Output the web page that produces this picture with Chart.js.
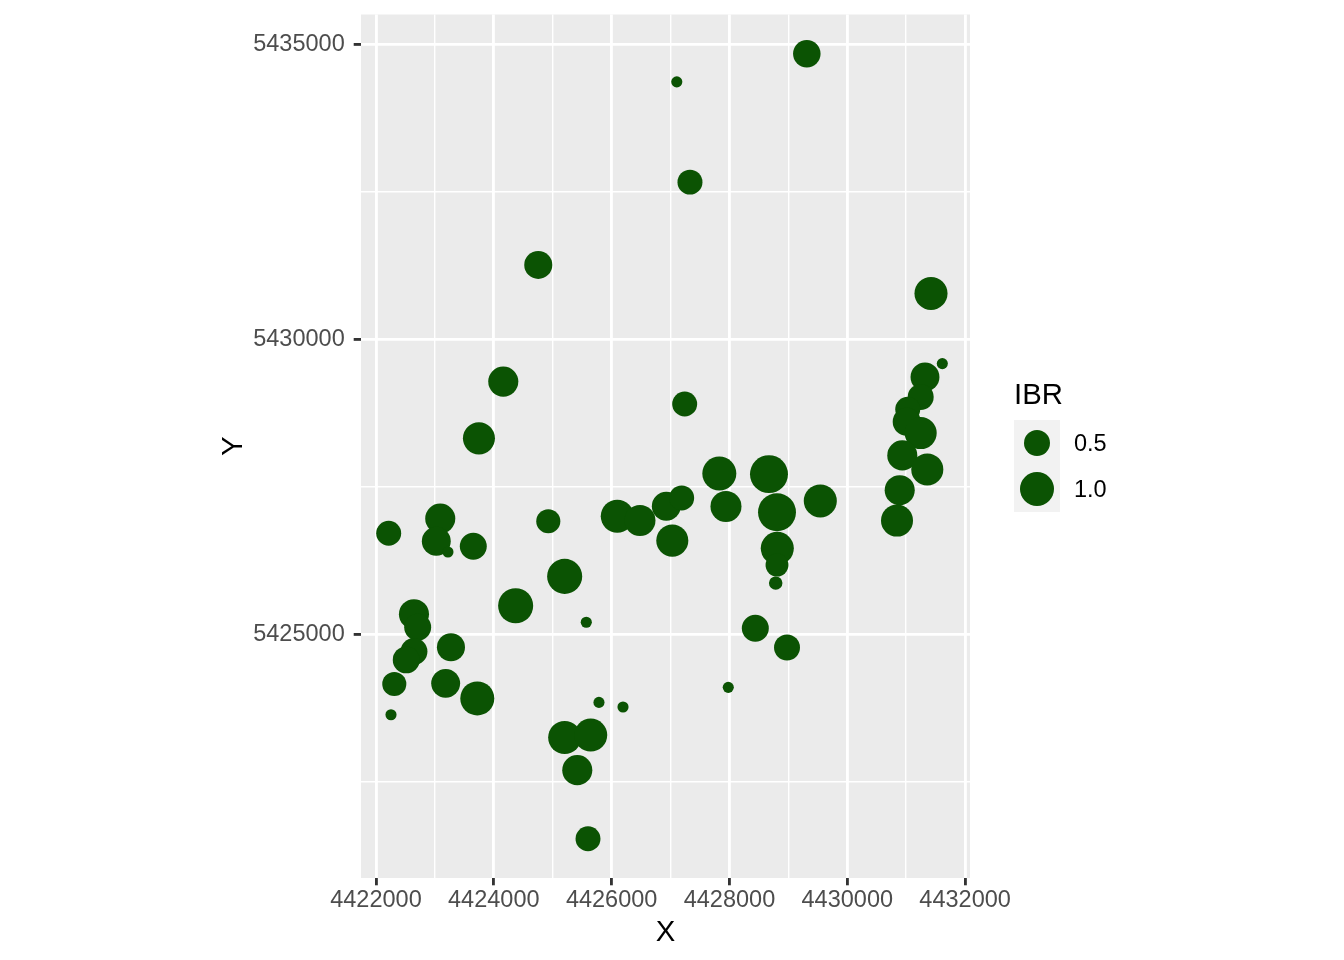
<!DOCTYPE html>
<html>
<head>
<meta charset="utf-8">
<style>
  html, body { margin: 0; padding: 0; background: #ffffff; }
  #wrap { width: 1344px; height: 960px; position: relative; }
  canvas { display: block; }
</style>
<script src="https://cdn.jsdelivr.net/npm/chart.js@4.4.1/dist/chart.umd.min.js"></script>
</head>
<body>
<div id="wrap"><canvas id="c" width="1344" height="960"></canvas></div>
<script>
// ---- data ----
const xs = [
  4429313, 4427106, 4427330, 4424755, 4431421, 4431613, 4431319, 4431246, 4431026, 4431009,
  4431246, 4430934, 4431358, 4430890, 4430844, 4424161, 4423748, 4427240, 4422216, 4423091,
  4423024, 4423222, 4423652, 4424925, 4425203, 4424371, 4425570, 4422645, 4422708, 4422645,
  4422514, 4423273, 4422311, 4423183, 4423720, 4422255, 4425785, 4426193, 4427980, 4425203,
  4425645, 4425417, 4425599, 4426096, 4426481, 4426928, 4427189, 4427030, 4427828, 4427941,
  4428671, 4428807, 4429542, 4428812, 4428807, 4428785, 4428439, 4428977
];
const ys = [
  5434844, 5434368, 5432667, 5431263, 5430780, 5429590, 5429364, 5429024, 5428815, 5428604,
  5428412, 5428033, 5427795, 5427443, 5426928, 5429284, 5428322, 5428905, 5426712, 5426962,
  5426576, 5426394, 5426491, 5426916, 5425981, 5425483, 5425204, 5425340, 5425119, 5424706,
  5424565, 5424779, 5424157, 5424167, 5423912, 5423635, 5423844, 5423766, 5424099, 5423249,
  5423290, 5422695, 5421532, 5427001, 5426928, 5427171, 5427312, 5426588, 5427727, 5427166,
  5427715, 5427069, 5427261, 5426457, 5426173, 5425867, 5425102, 5424774
];
const ibr = [
  0.58, 0.09, 0.45, 0.61, 0.93, 0.09, 0.66, 0.50, 0.45, 0.61,
  0.86, 0.73, 0.86, 0.73, 0.86, 0.73, 0.86, 0.45, 0.45, 0.73,
  0.66, 0.09, 0.55, 0.41, 1.08, 1.08, 0.09, 0.73, 0.55, 0.55,
  0.55, 0.61, 0.41, 0.66, 1.00, 0.09, 0.09, 0.09, 0.09, 0.93,
  0.93, 0.73, 0.45, 0.93, 0.79, 0.66, 0.45, 0.86, 1.00, 0.79,
  1.32, 1.32, 0.93, 0.93, 0.36, 0.11, 0.55, 0.50
];
const xMajorTicks = [4422000, 4424000, 4426000, 4428000, 4430000, 4432000];
const xMinorTicks = [4423000, 4425000, 4427000, 4429000, 4431000];
const yMajorTicks = [5425000, 5430000, 5435000];
const yMinorTicks = [5422500, 5427500, 5432500];
const legendBreaks = [0.5, 1.0];
const legendLabels = ['0.5', '1.0'];
const legendTitle = 'IBR';
const xTitle = 'X';
const yTitle = 'Y';

// ---- styling ----
const POINT_COLOR = '#0b5303';
const FONT = '"Liberation Sans", Arial, Helvetica, sans-serif';
const xLimits = [4421746, 4432083];
const yLimits = [5420866, 5435510];
const sizeLimits = [0.086, 1.316];

// ggplot2-like size mapping (area-proportional, range 1..6)
function diameterFor(v) {
  const t = Math.max(0, Math.min(1, (v - sizeLimits[0]) / (sizeLimits[1] - sizeLimits[0])));
  const s = 1 + 5 * Math.sqrt(t);
  return 5.69 * s + 3.8;
}

const points = xs.map((x, i) => ({ x: x, y: ys[i], v: ibr[i] }));

const bgPlugin = {
  id: 'panelBg',
  beforeDraw(chart) {
    const { ctx, chartArea: a } = chart;
    ctx.save();
    ctx.fillStyle = '#ebebeb';
    ctx.fillRect(a.left, a.top, a.right - a.left, a.bottom - a.top);
    ctx.restore();
  },
  afterDraw(chart) {
    const { ctx, chartArea: a } = chart;
    ctx.save();
    // axis titles
    ctx.fillStyle = '#000000';
    ctx.font = '29.3px ' + FONT;
    ctx.textAlign = 'center';
    ctx.textBaseline = 'alphabetic';
    ctx.fillText(xTitle, (a.left + a.right) / 2, 941);
    ctx.save();
    ctx.translate(242.3, (a.top + a.bottom) / 2);
    ctx.rotate(-Math.PI / 2);
    ctx.fillText(yTitle, 0, 0);
    ctx.restore();
    // legend
    const lx = 1014, ly = 420, key = 46;
    ctx.textAlign = 'left';
    ctx.fillText(legendTitle, lx, 404);
    ctx.fillStyle = '#f2f2f2';
    ctx.fillRect(lx, ly, key, key * legendBreaks.length);
    legendBreaks.forEach((b, i) => {
      const cx = lx + key / 2, cy = ly + key * i + key / 2;
      ctx.beginPath();
      ctx.arc(cx, cy, diameterFor(b) / 2, 0, Math.PI * 2);
      ctx.fillStyle = POINT_COLOR;
      ctx.fill();
      ctx.fillStyle = '#000000';
      ctx.font = '23.5px ' + FONT;
      ctx.textBaseline = 'middle';
      ctx.fillText(legendLabels[i], lx + key + 14, cy + 2);
    });
    ctx.restore();
  }
};

Chart.defaults.font.family = FONT;

new Chart(document.getElementById('c'), {
  type: 'scatter',
  data: {
    datasets: [{
      label: legendTitle,
      data: points,
      backgroundColor: POINT_COLOR,
      borderWidth: 0,
      pointRadius: (ctx) => ctx.raw ? diameterFor(ctx.raw.v) / 2 : 3,
      pointHoverRadius: (ctx) => ctx.raw ? diameterFor(ctx.raw.v) / 2 : 3,
      clip: false
    }]
  },
  options: {
    responsive: false,
    animation: false,
    devicePixelRatio: 1,
    events: [],
    layout: { autoPadding: false, padding: { left: 0, right: 374, top: 14.5, bottom: 0 } },
    plugins: { legend: { display: false }, tooltip: { enabled: false } },
    scales: {
      x: {
        type: 'linear',
        min: xLimits[0],
        max: xLimits[1],
        border: { display: false },
        afterBuildTicks: (scale) => {
          scale.ticks = xMajorTicks.concat(xMinorTicks).sort((a, b) => a - b).map(v => ({ value: v }));
        },
        afterFit: (scale) => {
          scale.height = 82;
          scale.paddingLeft = 0; scale.paddingRight = 0;
          scale.paddingTop = 0; scale.paddingBottom = 0;
        },
        grid: {
          color: '#ffffff',
          lineWidth: (c) => (c.tick && xMajorTicks.includes(c.tick.value)) ? 2.84 : 1.42,
          tickColor: (c) => (c.tick && xMajorTicks.includes(c.tick.value)) ? '#333333' : 'rgba(0,0,0,0)',
          tickWidth: 2.84,
          tickLength: 7.3,
          drawTicks: true
        },
        ticks: {
          autoSkip: false,
          maxRotation: 0,
          minRotation: 0,
          padding: 1.5,
          color: '#4d4d4d',
          font: { size: 23.5, family: FONT },
          callback: (v) => xMajorTicks.includes(v) ? String(v) : ''
        }
      },
      y: {
        type: 'linear',
        min: yLimits[0],
        max: yLimits[1],
        border: { display: false },
        afterBuildTicks: (scale) => {
          scale.ticks = yMajorTicks.concat(yMinorTicks).sort((a, b) => a - b).map(v => ({ value: v }));
        },
        afterFit: (scale) => {
          scale.width = 361;
          scale.paddingLeft = 0; scale.paddingRight = 0;
          scale.paddingTop = 0; scale.paddingBottom = 0;
        },
        grid: {
          color: '#ffffff',
          lineWidth: (c) => (c.tick && yMajorTicks.includes(c.tick.value)) ? 2.84 : 1.42,
          tickColor: (c) => (c.tick && yMajorTicks.includes(c.tick.value)) ? '#333333' : 'rgba(0,0,0,0)',
          tickWidth: 2.84,
          tickLength: 7.3,
          drawTicks: true
        },
        ticks: {
          autoSkip: false,
          padding: 9,
          color: '#4d4d4d',
          font: { size: 23.5, family: FONT },
          callback: (v) => yMajorTicks.includes(v) ? String(v) : ''
        }
      }
    }
  },
  plugins: [bgPlugin]
});
</script>
</body>
</html>
